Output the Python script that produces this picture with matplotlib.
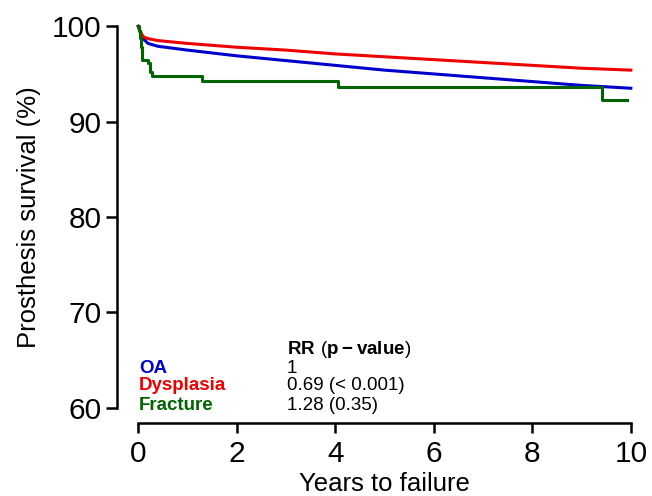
import matplotlib
matplotlib.use("Agg")
import matplotlib.pyplot as plt

plt.rcParams['font.family'] = ['Liberation Sans', 'DejaVu Sans']
plt.rcParams['mathtext.fontset'] = 'custom'
plt.rcParams['mathtext.rm'] = 'Liberation Sans'
plt.rcParams['mathtext.bf'] = 'Liberation Sans:bold'

# survival curves (years, %)
oa_t = [0, 0.05, 0.1, 0.2, 0.4, 1, 2, 3, 4, 5, 6, 7, 8, 9, 10]
oa_s = [100, 99.3, 98.7, 98.2, 97.9, 97.5, 96.9, 96.4, 95.9, 95.4, 95.0, 94.6, 94.2, 93.8, 93.5]

dys_t = [0, 0.05, 0.1, 0.2, 0.4, 1, 2, 3, 4, 5, 6, 7, 8, 9, 10]
dys_s = [100, 99.4, 98.9, 98.7, 98.5, 98.2, 97.8, 97.5, 97.1, 96.8, 96.5, 96.2, 95.9, 95.6, 95.4]

fx_t = [0, 0.02, 0.04, 0.06, 0.08, 0.19, 0.24, 0.29, 1.30, 4.06, 9.42, 9.93]
fx_s = [100, 99.5, 98.8, 97.8, 96.5, 96.1, 95.2, 94.8, 94.3, 93.6, 92.3, 92.3]

groups = ["OA", "Dysplasia", "Fracture"]
rr_text = ["1", "0.69 (< 0.001)", "1.28 (0.35)"]
colors = ["#0000CD", "#EE0000", "#006400"]

fig = plt.figure(figsize=(6.52, 4.96), dpi=100)
ax = fig.add_axes([117/652, 73/496, 535/652, 412/496])

ax.plot(oa_t, oa_s, color=colors[0], lw=2.2)
ax.plot(dys_t, dys_s, color=colors[1], lw=2.2)
ax.step(fx_t, fx_s, where='post', color=colors[2], lw=2.2)

ax.set_xlim(-0.43, 10.43)
ax.set_ylim(58.4, 101.6)
ax.set_xticks([0, 2, 4, 6, 8, 10])
ax.set_yticks([60, 70, 80, 90, 100])
for s in ['top', 'right']:
    ax.spines[s].set_visible(False)
ax.spines['left'].set_bounds(60, 100)
ax.spines['bottom'].set_bounds(0, 10)
for s in ['left', 'bottom']:
    ax.spines[s].set_linewidth(1.8)
ax.tick_params(axis='y', length=8, width=1.8, labelsize=21.5, pad=3)
ax.tick_params(axis='x', length=7, width=1.8, labelsize=21.5, pad=5)
ax.set_xlabel("Years to failure", fontsize=18.5, labelpad=3)
ax.set_ylabel("Prosthesis survival (%)", fontsize=18.5, labelpad=8)

ax.text(3.02, 66.1, r"$\mathbf{RR}\ \left(\mathbf{p-value}\right)$", fontsize=13.5, va='center')
ys = [64.1, 62.3, 60.2]
for g, r, c, y in zip(groups, rr_text, colors, ys):
    ax.text(0.02, y, g, color=c, fontsize=13.5, fontweight='bold', va='center')
    ax.text(3.02, y, r, color='black', fontsize=13.5, va='center')

fig.savefig("out.png", dpi=100)
